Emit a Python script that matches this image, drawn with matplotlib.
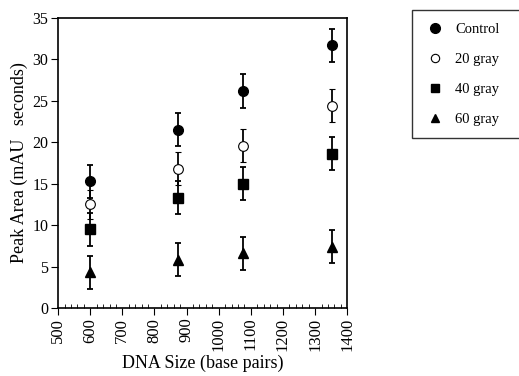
import matplotlib
matplotlib.use("Agg")
import matplotlib.pyplot as plt
from matplotlib.ticker import MultipleLocator
from matplotlib.lines import Line2D

plt.rcParams['font.family'] = ['Liberation Serif', 'DejaVu Serif']

dna_size = [600, 872, 1077, 1353]
control = [15.3, 21.5, 26.2, 31.7]
gray20 = [12.5, 16.8, 19.6, 24.4]
gray40 = [9.5, 13.3, 15.0, 18.6]
gray60 = [4.3, 5.8, 6.6, 7.4]
err_control = [2.0, 2.0, 2.0, 2.0]
err_20 = [1.8, 2.0, 2.0, 2.0]
err_40 = [2.0, 2.0, 2.0, 2.0]
err_60 = [2.0, 2.0, 2.0, 2.0]
labels = ['Control', '20 gray', '40 gray', '60 gray']

fig = plt.figure(figsize=(5.19, 3.76), dpi=100)
ax = fig.add_axes([0.112, 0.181, 0.557, 0.771])

common = dict(color='black', ecolor='black', elinewidth=1.3, capsize=2.5, capthick=1.3, linestyle='none')
ax.errorbar(dna_size, control, yerr=err_control, marker='o', ms=7, **common)
ax.errorbar(dna_size, gray20, yerr=err_20, marker='o', ms=7, mfc='white', mec='black', mew=0.8, **common)
ax.errorbar(dna_size, gray40, yerr=err_40, marker='s', ms=7, **common)
ax.errorbar(dna_size, gray60, yerr=err_60, marker='^', ms=7, **common)

ax.set_xlim(500, 1400)
ax.set_ylim(0, 35)
ax.xaxis.set_major_locator(MultipleLocator(100))
ax.xaxis.set_minor_locator(MultipleLocator(20))
ax.yaxis.set_major_locator(MultipleLocator(5))
ax.tick_params(axis='x', which='major', direction='out', length=5, labelsize=12, rotation=90, pad=2)
ax.tick_params(axis='x', which='minor', direction='in', length=3)
ax.tick_params(axis='y', which='major', direction='out', length=5, labelsize=11.5, pad=2)
for s in ax.spines.values():
    s.set_linewidth(1.2)

ax.set_xlabel('DNA Size (base pairs)', fontsize=13, labelpad=3)
ax.set_ylabel('Peak Area (mAU   seconds)', fontsize=13, labelpad=3)

handles = [
    Line2D([], [], color='black', marker='o', ms=7, linestyle='none'),
    Line2D([], [], color='black', marker='o', ms=6, mfc='white', mew=0.8, linestyle='none'),
    Line2D([], [], color='black', marker='s', ms=6, linestyle='none'),
    Line2D([], [], color='black', marker='^', ms=6, linestyle='none'),
]
leg = fig.legend(handles, labels, loc='upper left', bbox_to_anchor=(0.794, 0.628, 0.21, 0.345),
                 mode='expand', frameon=True, fancybox=False,
                 edgecolor='black', fontsize=10.5, labelspacing=1.15, handletextpad=0.6,
                 borderpad=0.85, handlelength=1.5, borderaxespad=0)
leg.get_frame().set_linewidth(1.0)

fig.savefig('out.png', dpi=100)
